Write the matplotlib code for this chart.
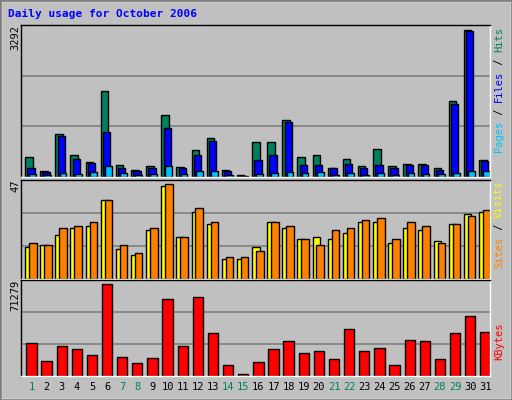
import matplotlib
matplotlib.use("Agg")
import matplotlib.pyplot as plt
from matplotlib.patches import Rectangle
import numpy as np

days = list(range(1, 32))
weekend = [1, 7, 8, 14, 15, 21, 22, 28, 29]
hits = [440,142,970,500,343,1933,276,164,254,1396,231,612,881,164,52,791,791,1269,440,500,209,410,254,634,254,299,299,209,1694,3292,388]
files = [209,119,926,410,321,1015,209,142,209,1105,209,500,813,142,30,388,500,1239,276,276,209,299,209,276,209,276,276,164,1642,3270,366]
pages = [75,52,97,75,119,254,97,52,75,254,75,142,142,52,22,75,97,119,97,119,52,97,52,97,52,97,75,75,97,142,142]
visits = [16,17,22,25,26,39,15,12,24,46,21,33,27,10,10,16,28,25,20,21,20,23,28,28,18,25,24,19,27,32,33]
sites = [18,17,25,26,28,39,17,13,25,47,21,35,28,11,11,14,28,26,20,17,24,25,29,30,20,28,26,18,27,31,34]
kbytes = [25850,11750,23500,21150,16450,71279,14880,10180,14100,59530,23500,61100,33680,8620,1570,10970,21150,27420,18020,19580,13320,36810,19580,21930,8620,28200,27420,13320,33680,46210,34470]

W, H = 512, 400
fig = plt.figure(figsize=(W/100, H/100), dpi=100)
fig.patch.set_facecolor("#C0C0C0")
MONO = "DejaVu Sans Mono"

def px_axes(x0, y0, x1, y1):
    ax = fig.add_axes([x0/W, 1-y1/H, (x1-x0)/W, (y1-y0)/H])
    ax.set_facecolor("#C0C0C0")
    ax.set_xticks([]); ax.set_yticks([])
    for s in ax.spines.values():
        s.set_linewidth(1)
    ax.spines['top'].set_color('black'); ax.spines['left'].set_color('black')
    ax.spines['bottom'].set_color('white'); ax.spines['right'].set_color('white')
    ax.set_xlim(0, 31)
    return ax

fig.add_artist(Rectangle((0.002, 0.002), 0.996, 0.996, transform=fig.transFigure, fill=False, ec='white', lw=1))
fig.add_artist(Rectangle((0, 0), 1, 1, transform=fig.transFigure, fill=False, ec='#808080', lw=2))

x = np.arange(31)
def bars(ax, vals, off, w, color):
    ax.bar(x + off, vals, width=w, align='edge', color=color, edgecolor='black', linewidth=1)

def grid(ax, top):
    for f in (1/3, 2/3):
        ax.axhline(top*f, color='#808080', lw=1.2, zorder=0)

ax1 = px_axes(21, 25, 490, 177)
top1 = 3292*152/147
ax1.set_ylim(0, top1); grid(ax1, top1)
bars(ax1, hits, 0.27, 0.5, '#00805C')
bars(ax1, files, 0.42, 0.48, '#0000FF')
bars(ax1, pages, 0.55, 0.45, '#00C0FF')

ax2 = px_axes(21, 180, 490, 279)
top2 = 47*99/95
ax2.set_ylim(0, top2); grid(ax2, top2)
bars(ax2, visits, 0.27, 0.5, '#FFFF00')
bars(ax2, sites, 0.53, 0.5, '#FF8000')

ax3 = px_axes(21, 280, 490, 376)
top3 = 71279*95/91
ax3.set_ylim(0, top3); grid(ax3, top3)
bars(ax3, kbytes, 0.35, 0.68, '#FF0000')

for i, d in enumerate(days):
    ax3.text(i + 0.69, -0.06, str(d), transform=ax3.get_xaxis_transform(),
             ha='center', va='top', fontsize=7.5, family=MONO,
             color='#00805C' if d in weekend else 'black')

fig.text(8/W, 1-14/H, "Daily usage for October 2006", fontsize=8, family=MONO,
         fontweight='bold', color='#0000FF', va='center', ha='left')

for ytop, lab in [(25, "3292"), (180, "47"), (280, "71279")]:
    fig.text(15/W, 1-ytop/H, lab, rotation=90, fontsize=7.5, family=MONO,
             ha='center', va='top')

cw = 0.602*7.5*100/72
def right_label(pieces, ytop):
    n = sum(len(p) for p, _ in pieces)
    ybot = ytop + n*cw
    k = 0
    for p, c in pieces:
        yc = ybot - (k + len(p)/2)*cw
        if p.strip():
            fig.text(499/W, 1-yc/H, p, rotation=90, fontsize=7.5, family=MONO,
                     color=c, ha='center', va='center')
        k += len(p)

right_label([("Pages", '#00C0FF'), (" / ", 'black'), ("Files", '#0000FF'), (" / ", 'black'), ("Hits", '#00805C')], 27)
right_label([("Sites", '#FF8000'), (" / ", 'black'), ("Visits", '#FFFF00')], 180)
right_label([("KBytes", '#FF0000')], 322)

fig.savefig("out.png", dpi=100, facecolor=fig.get_facecolor())
